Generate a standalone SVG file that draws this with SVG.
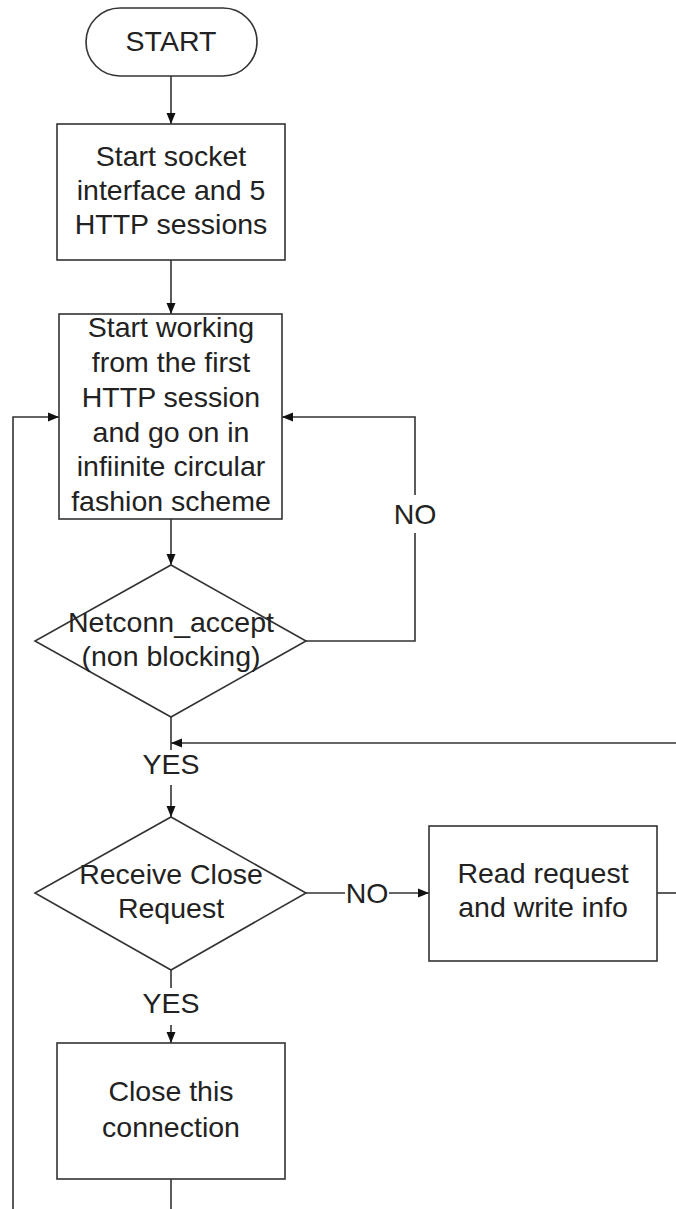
<svg xmlns="http://www.w3.org/2000/svg" width="676" height="1209" viewBox="0 0 676 1209">
<style>
.shape{fill:#fff;stroke:#333;stroke-width:1.6}
.conn{fill:none;stroke:#333;stroke-width:1.6}
text{font-family:"Liberation Sans",Arial,sans-serif;font-size:28.5px;fill:#222;text-anchor:middle}
</style>
<defs>
<marker id="ah" markerUnits="userSpaceOnUse" markerWidth="12" markerHeight="10" refX="11" refY="5" orient="auto">
<path d="M0,0.5 L11,5 L0,9.5 z" fill="#111"/>
</marker>
</defs>
<rect width="676" height="1209" fill="#fff"/>
<g id="connectors">
<path class="conn" d="M171,76 V124" marker-end="url(#ah)"/>
<path class="conn" d="M171,260 V314" marker-end="url(#ah)"/>
<path class="conn" d="M171,519 V565" marker-end="url(#ah)"/>
<path class="conn" d="M306,641 H415 V533"/>
<path class="conn" d="M415,495 V417 H282" marker-end="url(#ah)"/>
<path class="conn" d="M13,1209 V417 H59" marker-end="url(#ah)"/>
<path class="conn" d="M171,717 V750"/>
<path class="conn" d="M171,785 V817" marker-end="url(#ah)"/>
<path class="conn" d="M676,743 H171" marker-end="url(#ah)"/>
<path class="conn" d="M306,893 H345"/>
<path class="conn" d="M389,893 H429" marker-end="url(#ah)"/>
<path class="conn" d="M657,893 H676"/>
<path class="conn" d="M171,970 V988"/>
<path class="conn" d="M171,1025 V1043" marker-end="url(#ah)"/>
<path class="conn" d="M171,1179 V1209"/>
<text x="171" y="774">YES</text>
<text x="171" y="1013">YES</text>
<text x="367" y="903">NO</text>
<text x="415" y="524">NO</text>
</g>
<g id="start">
<rect class="shape" x="86" y="8" width="171" height="68" rx="34" ry="34"/>
<text x="171" y="51">START</text>
</g>
<g id="init">
<rect class="shape" x="57" y="124" width="228" height="136"/>
<text x="171" y="166">Start socket</text>
<text x="171" y="200">interface and 5</text>
<text x="171" y="234">HTTP sessions</text>
</g>
<g id="work">
<rect class="shape" x="59" y="314" width="223" height="205"/>
<text x="171" y="337">Start working</text>
<text x="171" y="372">from the first</text>
<text x="171" y="407">HTTP session</text>
<text x="171" y="442">and go on in</text>
<text x="171" y="476">infiinite circular</text>
<text x="171" y="511">fashion scheme</text>
</g>
<g id="accept">
<polygon class="shape" points="171,565 306,641 171,717 35,641"/>
<text x="171" y="632">Netconn_accept</text>
<text x="171" y="666">(non blocking)</text>
</g>
<g id="closereq">
<polygon class="shape" points="171,817 306,893 171,970 35,893"/>
<text x="171" y="884">Receive Close</text>
<text x="171" y="918">Request</text>
</g>
<g id="read">
<rect class="shape" x="429" y="826" width="228" height="135"/>
<text x="543" y="883">Read request</text>
<text x="543" y="917">and write info</text>
</g>
<g id="close">
<rect class="shape" x="57" y="1043" width="228" height="136"/>
<text x="171" y="1101">Close this</text>
<text x="171" y="1137">connection</text>
</g>
</svg>
